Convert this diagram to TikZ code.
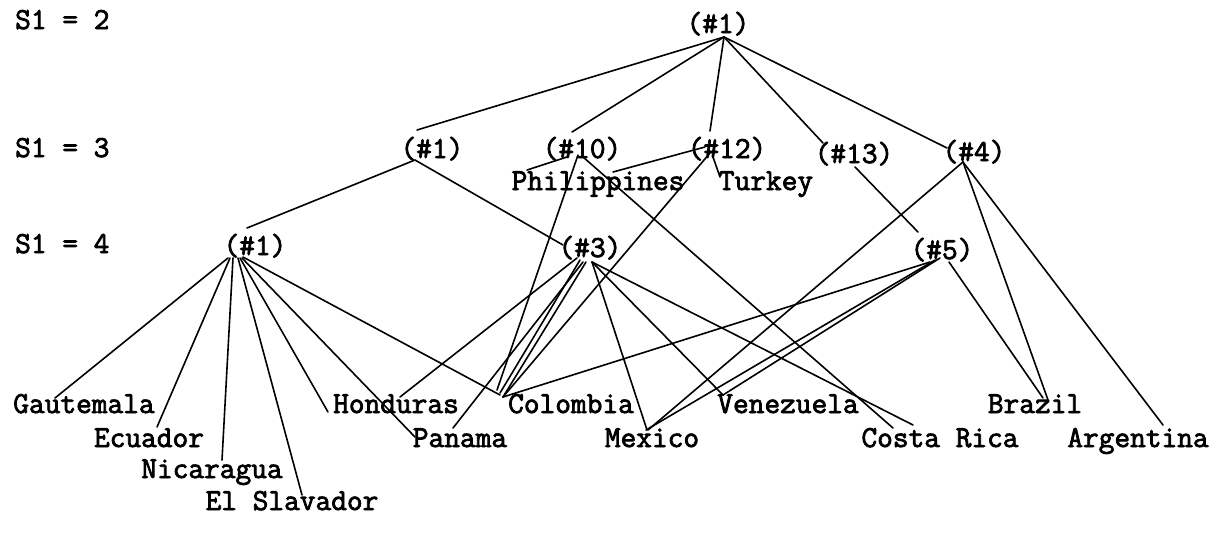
\documentclass[tikz,border=0pt]{standalone}
\usepackage{fontspec}
\newfontfamily\tw{Latin Modern Mono}[FakeBold=2.5]
\usetikzlibrary{calc}
\tikzset{
  lbl/.style={anchor=base, inner sep=0pt, font=\tw\fontsize{30.5}{36}\selectfont},
  lvl/.style={anchor=base west, inner sep=0pt, font=\tw\fontsize{30.5}{36}\selectfont},
  edge/.style={line width=1.6pt, line cap=round}
}
\begin{document}
\begin{tikzpicture}[x=1pt,y=-1pt]
\useasboundingbox[fill=white] (0,0) rectangle (1223,550);
% level labels
\node[lvl] (s2) at (15,29) {S1 = 2};
\node[lvl] (s3) at (15,157) {S1 = 3};
\node[lvl] (s4) at (15,253) {S1 = 4};
% cluster nodes
\node[lbl] (root) at (718,33) {(\#1)};
\node[lbl] (n1) at (432,158) {(\#1)};
\node[lbl] (n10) at (582,158) {(\#10)};
\node[lbl] (n12) at (727,158) {(\#12)};
\node[lbl] (n13) at (854,163) {(\#13)};
\node[lbl] (n4) at (974,161) {(\#4)};
\node[lbl] (m1) at (255,255) {(\#1)};
\node[lbl] (m3) at (590,257) {(\#3)};
\node[lbl] (m5) at (942,259) {(\#5)};
% countries
\node[lbl] (phil) at (598,190) {Philippines};
\node[lbl] (turk) at (766,190) {Turkey};
\node[lbl] (gaut) at (84,413) {Gautemala};
\node[lbl] (ecua) at (149,447) {Ecuador};
\node[lbl] (nica) at (212,478) {Nicaragua};
\node[lbl] (elsl) at (292,510) {El Slavador};
\node[lbl] (hond) at (396,413) {Honduras};
\node[lbl] (pana) at (460,447) {Panama};
\node[lbl] (colo) at (571,413) {Colombia};
\node[lbl] (mexi) at (652,447) {Mexico};
\node[lbl] (vene) at (788,413) {Venezuela};
\node[lbl] (cost) at (940,447) {Costa Rica};
\node[lbl] (braz) at (1035,413) {Brazil};
\node[lbl] (arge) at (1138,447) {Argentina};
% root
\draw[edge] ($(root.base)+(6,4)$) -- ($(n1.base)+(-15,-28)$);
\draw[edge] ($(root.base)+(6,4)$) -- ($(n10.base)+(-10,-26)$);
\draw[edge] ($(root.base)+(6,4)$) -- ($(n12.base)+(-17,-27)$);
\draw[edge] ($(root.base)+(6,4)$) -- ($(n13.base)+(-31,-20)$);
\draw[edge] ($(root.base)+(6,4)$) -- ($(n4.base)+(-27,-13)$);
% level 3
\draw[edge] ($(n1.base)+(-17,2)$) -- ($(m1.base)+(-8,-27)$);
\draw[edge] ($(n1.base)+(-17,2)$) -- ($(m3.base)+(-27,-12)$);
\draw[edge] ($(n10.base)+(-15,-1)$) -- ($(phil.base)+(-71,-20)$);
\draw[edge] ($(n10.base)+(-4,-3)$) -- ($(colo.base)+(-74,-23)$);
\draw[edge] ($(n10.base)+(1,-1)$) -- ($(cost.base)+(-47,-19)$);
\draw[edge] ($(n12.base)+(-22,-11)$) -- ($(phil.base)+(15,-18)$);
\draw[edge] ($(n12.base)+(-14,-1)$) -- ($(turk.base)+(-46,-13)$);
\draw[edge] ($(n12.base)+(-17,-5)$) -- ($(colo.base)+(-68,-16)$);
\draw[edge] ($(n13.base)+(1,4)$) -- ($(m5.base)+(-24,-27)$);
\draw[edge] ($(n4.base)+(-11,1)$) -- ($(mexi.base)+(-4,-17)$);
\draw[edge] ($(n4.base)+(-11,1)$) -- ($(braz.base)+(13,-13)$);
\draw[edge] ($(n4.base)+(-11,1)$) -- ($(arge.base)+(25,-22)$);
% level 4 (#1)
\draw[edge] ($(m1.base)+(-27,3)$) -- ($(gaut.base)+(-29,-15)$);
\draw[edge] ($(m1.base)+(-25,3)$) -- ($(ecua.base)+(8,-20)$);
\draw[edge] ($(m1.base)+(-22,3)$) -- ($(nica.base)+(10,-18)$);
\draw[edge] ($(m1.base)+(-17,3)$) -- ($(elsl.base)+(10,-15)$);
\draw[edge] ($(m1.base)+(-15,3)$) -- ($(hond.base)+(-68,-1)$);
\draw[edge] ($(m1.base)+(-13,3)$) -- ($(pana.base)+(-45,-10)$);
\draw[edge] ($(m1.base)+(-12,2)$) -- ($(colo.base)+(-71,-18)$);
% level 4 (#3)
\draw[edge] ($(m3.base)+(-13,1)$) -- ($(hond.base)+(4,-16)$);
\draw[edge] ($(m3.base)+(-7,5)$) -- ($(pana.base)+(-7,-19)$);
\draw[edge] ($(m3.base)+(-10,3)$) -- ($(colo.base)+(-71,-20)$);
\draw[edge] ($(m3.base)+(-4,5)$) -- ($(colo.base)+(-68,-16)$);
\draw[edge] ($(m3.base)+(2,5)$) -- ($(mexi.base)+(-5,-17)$);
\draw[edge] ($(m3.base)+(2,5)$) -- ($(vene.base)+(-65,-18)$);
\draw[edge] ($(m3.base)+(2,5)$) -- ($(cost.base)+(-27,-22)$);
% level 4 (#5)
\draw[edge] ($(m5.base)+(-12,3)$) -- ($(colo.base)+(-68,-16)$);
\draw[edge] ($(m5.base)+(-7,1)$) -- ($(mexi.base)+(-6,-17)$);
\draw[edge] ($(m5.base)+(-2,-1)$) -- ($(vene.base)+(-65,-18)$);
\draw[edge] ($(m5.base)+(7,3)$) -- ($(braz.base)+(8,-15)$);
\end{tikzpicture}
\end{document}
